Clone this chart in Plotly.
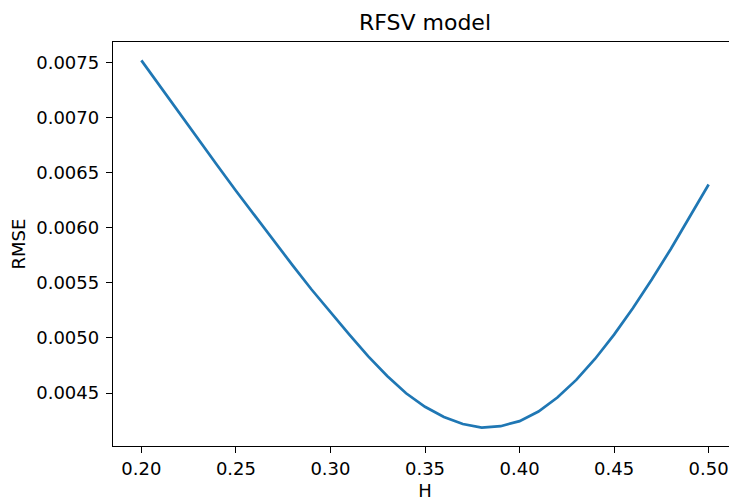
import plotly.graph_objects as go

# Data
H = [0.20, 0.21, 0.22, 0.23, 0.24, 0.25, 0.26, 0.27, 0.28, 0.29,
     0.30, 0.31, 0.32, 0.33, 0.34, 0.35, 0.36, 0.37, 0.38, 0.39,
     0.40, 0.41, 0.42, 0.43, 0.44, 0.45, 0.46, 0.47, 0.48, 0.49, 0.50]
RMSE = [0.007518, 0.007278, 0.007039, 0.006802, 0.006568, 0.006335, 0.006106,
        0.005880, 0.005658, 0.005439, 0.005232, 0.005029, 0.004832, 0.004654,
        0.004498, 0.004375, 0.004282, 0.004219, 0.004186, 0.004199, 0.004245,
        0.004332, 0.004459, 0.004619, 0.004811, 0.005030, 0.005272, 0.005532,
        0.005807, 0.006094, 0.006392]

x_ticks = [0.20, 0.25, 0.30, 0.35, 0.40, 0.45, 0.50]
x_tick_labels = ["0.20", "0.25", "0.30", "0.35", "0.40", "0.45", "0.50"]
y_ticks = [0.0045, 0.0050, 0.0055, 0.0060, 0.0065, 0.0070, 0.0075]
y_tick_labels = ["0.0045", "0.0050", "0.0055", "0.0060", "0.0065", "0.0070", "0.0075"]

title_text = "RFSV model"
x_label = "H"
y_label = "RMSE"

# matplotlib-like 5% margins
xmin, xmax = min(H), max(H)
ymin, ymax = min(RMSE), max(RMSE)
xpad = 0.05 * (xmax - xmin)
ypad = 0.05 * (ymax - ymin)

FONT = "DejaVu Sans"
TICK_SIZE = 18
LABEL_SIZE = 18
TITLE_SIZE = 22

fig = go.Figure()
fig.add_trace(go.Scatter(
    x=H, y=RMSE, mode="lines",
    line=dict(color="#1f77b4", width=2.7),
    showlegend=False,
))

axis_common = dict(
    showgrid=False, zeroline=False,
    showline=True, linecolor="black", linewidth=1.4,
    ticks="outside", ticklen=6, tickwidth=1.4, tickcolor="black",
    tickfont=dict(family=FONT, size=TICK_SIZE, color="black"),
)

# the page body adds an 8px offset; the figure is sized so that it ends at the window edge
fig.update_layout(
    width=729, height=494,
    margin=dict(l=105, r=0, t=34, b=56, autoexpand=False),
    paper_bgcolor="white", plot_bgcolor="white",
    title=dict(text=title_text, x=0.5, xref="paper", xanchor="center",
               y=1, yref="paper", yanchor="bottom", pad=dict(b=12),
               font=dict(family=FONT, size=TITLE_SIZE, color="black")),
    xaxis=dict(range=[xmin - xpad, xmax + xpad], tickvals=x_ticks,
               ticktext=x_tick_labels, mirror=True, ticklabelstandoff=0,
               title=dict(text=x_label, standoff=6,
                          font=dict(family=FONT, size=LABEL_SIZE, color="black")),
               **axis_common),
    yaxis=dict(range=[ymin - ypad, ymax + ypad], tickvals=y_ticks,
               ticktext=y_tick_labels, mirror=False, ticklabelstandoff=3,
               title=dict(text=y_label, standoff=11,
                          font=dict(family=FONT, size=LABEL_SIZE, color="black")),
               **axis_common),
)

fig.write_html("out.html")
